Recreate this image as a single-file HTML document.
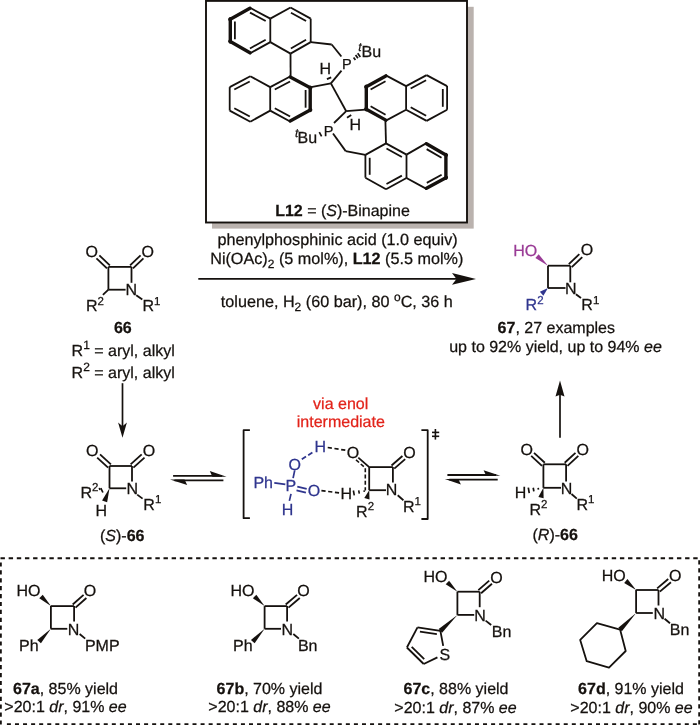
<!DOCTYPE html>
<html><head><meta charset="utf-8"><style>
html,body{margin:0;padding:0;background:#fff;}
svg{display:block;}
text{font-family:"Liberation Sans",sans-serif;stroke-width:0.25px;text-rendering:geometricPrecision;}
svg{will-change:transform;}
</style></head><body>
<svg width="700" height="725" viewBox="0 0 700 725">
<rect x="212" y="6.8" width="261.7" height="221.8" fill="#bab2ae"/>
<rect x="206" y="0.9" width="261" height="221.6" fill="#fff" stroke="#15110e" stroke-width="1.9"/>
<line x1="249.94" y1="8.29" x2="229.84" y2="19.39" stroke="#15110e" stroke-width="3.4" stroke-linecap="round"/>
<line x1="230.3" y1="18.6" x2="230.3" y2="42.1" stroke="#15110e" stroke-width="3.4" stroke-linecap="round"/>
<line x1="229.85" y1="41.32" x2="249.95" y2="52.82" stroke="#15110e" stroke-width="3.4" stroke-linecap="round"/>
<line x1="249.5" y1="53.6" x2="270.3" y2="42.1" stroke="#15110e" stroke-width="1.8" stroke-linecap="butt"/>
<line x1="270.3" y1="42.1" x2="270.3" y2="18.6" stroke="#15110e" stroke-width="1.8" stroke-linecap="butt"/>
<line x1="270.3" y1="18.6" x2="249.5" y2="7.5" stroke="#15110e" stroke-width="1.8" stroke-linecap="butt"/>
<line x1="270.3" y1="18.6" x2="290.5" y2="7.5" stroke="#15110e" stroke-width="1.8" stroke-linecap="butt"/>
<line x1="290.5" y1="7.5" x2="310.7" y2="18.6" stroke="#15110e" stroke-width="1.8" stroke-linecap="butt"/>
<line x1="310.7" y1="18.6" x2="310.7" y2="42.1" stroke="#15110e" stroke-width="1.8" stroke-linecap="butt"/>
<line x1="310.7" y1="42.1" x2="290.5" y2="53.6" stroke="#15110e" stroke-width="1.8" stroke-linecap="butt"/>
<line x1="290.5" y1="53.6" x2="270.3" y2="42.1" stroke="#15110e" stroke-width="1.8" stroke-linecap="butt"/>
<line x1="234.9" y1="21.5" x2="234.9" y2="39.2" stroke="#15110e" stroke-width="1.8" stroke-linecap="butt"/>
<line x1="249.96" y1="48.43" x2="265.68" y2="39.74" stroke="#15110e" stroke-width="1.8" stroke-linecap="butt"/>
<line x1="265.72" y1="21.03" x2="250.03" y2="12.66" stroke="#15110e" stroke-width="1.8" stroke-linecap="butt"/>
<line x1="290.97" y1="12.67" x2="306.09" y2="20.97" stroke="#15110e" stroke-width="1.8" stroke-linecap="butt"/>
<line x1="306.05" y1="39.8" x2="290.89" y2="48.43" stroke="#15110e" stroke-width="1.8" stroke-linecap="butt"/>
<line x1="250.3" y1="76.3" x2="229.7" y2="87.1" stroke="#15110e" stroke-width="1.8" stroke-linecap="butt"/>
<line x1="229.7" y1="87.1" x2="229.7" y2="110.6" stroke="#15110e" stroke-width="1.8" stroke-linecap="butt"/>
<line x1="229.7" y1="110.6" x2="250.3" y2="121.7" stroke="#15110e" stroke-width="1.8" stroke-linecap="butt"/>
<line x1="250.3" y1="121.7" x2="270.2" y2="110.6" stroke="#15110e" stroke-width="1.8" stroke-linecap="butt"/>
<line x1="270.2" y1="110.6" x2="270.2" y2="87.1" stroke="#15110e" stroke-width="1.8" stroke-linecap="butt"/>
<line x1="270.2" y1="87.1" x2="250.3" y2="76.3" stroke="#15110e" stroke-width="1.8" stroke-linecap="butt"/>
<line x1="270.2" y1="87.1" x2="290.6" y2="76.3" stroke="#15110e" stroke-width="1.8" stroke-linecap="butt"/>
<line x1="290.18" y1="77.1" x2="310.68" y2="87.9" stroke="#15110e" stroke-width="3.4" stroke-linecap="round"/>
<line x1="310.2" y1="87.1" x2="310.2" y2="110.6" stroke="#15110e" stroke-width="3.4" stroke-linecap="round"/>
<line x1="310.67" y1="109.81" x2="290.17" y2="120.91" stroke="#15110e" stroke-width="3.4" stroke-linecap="round"/>
<line x1="290.6" y1="121.7" x2="270.2" y2="110.6" stroke="#15110e" stroke-width="1.8" stroke-linecap="butt"/>
<line x1="249.73" y1="81.45" x2="234.27" y2="89.56" stroke="#15110e" stroke-width="1.8" stroke-linecap="butt"/>
<line x1="234.29" y1="108.19" x2="249.79" y2="116.54" stroke="#15110e" stroke-width="1.8" stroke-linecap="butt"/>
<line x1="274.77" y1="89.54" x2="290.05" y2="81.46" stroke="#15110e" stroke-width="1.8" stroke-linecap="butt"/>
<line x1="305.6" y1="90" x2="305.6" y2="107.7" stroke="#15110e" stroke-width="1.8" stroke-linecap="butt"/>
<line x1="290.11" y1="116.54" x2="274.8" y2="108.21" stroke="#15110e" stroke-width="1.8" stroke-linecap="butt"/>
<line x1="385.83" y1="75.89" x2="365.83" y2="86.89" stroke="#15110e" stroke-width="3.4" stroke-linecap="round"/>
<line x1="366.3" y1="86.1" x2="366.3" y2="109.7" stroke="#15110e" stroke-width="3.4" stroke-linecap="round"/>
<line x1="365.84" y1="108.91" x2="385.84" y2="120.11" stroke="#15110e" stroke-width="3.4" stroke-linecap="round"/>
<line x1="385.4" y1="120.9" x2="406.1" y2="109.7" stroke="#15110e" stroke-width="1.8" stroke-linecap="butt"/>
<line x1="406.1" y1="109.7" x2="406.1" y2="86.1" stroke="#15110e" stroke-width="1.8" stroke-linecap="butt"/>
<line x1="406.1" y1="86.1" x2="385.4" y2="75.1" stroke="#15110e" stroke-width="1.8" stroke-linecap="butt"/>
<line x1="406.1" y1="86.1" x2="426.6" y2="75.1" stroke="#15110e" stroke-width="1.8" stroke-linecap="butt"/>
<line x1="426.6" y1="75.1" x2="447.1" y2="86.1" stroke="#15110e" stroke-width="1.8" stroke-linecap="butt"/>
<line x1="447.1" y1="86.1" x2="447.1" y2="109.7" stroke="#15110e" stroke-width="1.8" stroke-linecap="butt"/>
<line x1="447.1" y1="109.7" x2="426.6" y2="120.9" stroke="#15110e" stroke-width="1.8" stroke-linecap="butt"/>
<line x1="426.6" y1="120.9" x2="406.1" y2="109.7" stroke="#15110e" stroke-width="1.8" stroke-linecap="butt"/>
<line x1="385.51" y1="81.32" x2="370.59" y2="89.52" stroke="#15110e" stroke-width="1.8" stroke-linecap="butt"/>
<line x1="370.62" y1="106.32" x2="385.56" y2="114.68" stroke="#15110e" stroke-width="1.8" stroke-linecap="butt"/>
<line x1="410.69" y1="88.52" x2="426.08" y2="80.26" stroke="#15110e" stroke-width="1.8" stroke-linecap="butt"/>
<line x1="442.8" y1="89" x2="442.8" y2="106.8" stroke="#15110e" stroke-width="1.8" stroke-linecap="butt"/>
<line x1="426.12" y1="115.74" x2="410.71" y2="107.32" stroke="#15110e" stroke-width="1.8" stroke-linecap="butt"/>
<line x1="386" y1="143.4" x2="365.4" y2="154.9" stroke="#15110e" stroke-width="1.8" stroke-linecap="butt"/>
<line x1="365.4" y1="154.9" x2="365.4" y2="177.7" stroke="#15110e" stroke-width="1.8" stroke-linecap="butt"/>
<line x1="365.4" y1="177.7" x2="386" y2="189.2" stroke="#15110e" stroke-width="1.8" stroke-linecap="butt"/>
<line x1="386" y1="189.2" x2="406.5" y2="178" stroke="#15110e" stroke-width="1.8" stroke-linecap="butt"/>
<line x1="406.5" y1="178" x2="406.5" y2="154.6" stroke="#15110e" stroke-width="1.8" stroke-linecap="butt"/>
<line x1="406.5" y1="154.6" x2="386" y2="143.4" stroke="#15110e" stroke-width="1.8" stroke-linecap="butt"/>
<line x1="406.5" y1="154.6" x2="426.9" y2="142.9" stroke="#15110e" stroke-width="1.8" stroke-linecap="butt"/>
<line x1="426.45" y1="143.68" x2="446.35" y2="155.18" stroke="#15110e" stroke-width="3.4" stroke-linecap="round"/>
<line x1="445.9" y1="154.4" x2="445.9" y2="178.2" stroke="#15110e" stroke-width="3.4" stroke-linecap="round"/>
<line x1="446.37" y1="177.41" x2="426.47" y2="188.31" stroke="#15110e" stroke-width="3.4" stroke-linecap="round"/>
<line x1="426.9" y1="189.1" x2="406.5" y2="178" stroke="#15110e" stroke-width="1.8" stroke-linecap="butt"/>
<line x1="369.7" y1="157.8" x2="369.7" y2="174.8" stroke="#15110e" stroke-width="1.8" stroke-linecap="butt"/>
<line x1="386.48" y1="184.04" x2="401.89" y2="175.62" stroke="#15110e" stroke-width="1.8" stroke-linecap="butt"/>
<line x1="401.89" y1="156.98" x2="386.48" y2="148.56" stroke="#15110e" stroke-width="1.8" stroke-linecap="butt"/>
<line x1="426.66" y1="149.11" x2="441.54" y2="157.71" stroke="#15110e" stroke-width="1.8" stroke-linecap="butt"/>
<line x1="441.61" y1="174.77" x2="426.8" y2="182.88" stroke="#15110e" stroke-width="1.8" stroke-linecap="butt"/>
<line x1="290.5" y1="53.6" x2="290.6" y2="76.3" stroke="#15110e" stroke-width="1.8" stroke-linecap="butt"/>
<line x1="385.4" y1="120.9" x2="386" y2="143.4" stroke="#15110e" stroke-width="1.8" stroke-linecap="butt"/>
<line x1="310.7" y1="42.1" x2="331.7" y2="44.5" stroke="#15110e" stroke-width="1.8" stroke-linecap="butt"/>
<line x1="331.7" y1="44.5" x2="341.4" y2="56.5" stroke="#15110e" stroke-width="1.8" stroke-linecap="butt"/>
<line x1="311.1" y1="87.1" x2="330.9" y2="83.4" stroke="#15110e" stroke-width="1.8" stroke-linecap="butt"/>
<line x1="330.9" y1="83.4" x2="341.5" y2="70.6" stroke="#15110e" stroke-width="1.8" stroke-linecap="butt"/>
<line x1="330.9" y1="83.4" x2="346.2" y2="111.2" stroke="#15110e" stroke-width="1.8" stroke-linecap="butt"/>
<line x1="346.2" y1="111.2" x2="365.4" y2="109.7" stroke="#15110e" stroke-width="1.8" stroke-linecap="butt"/>
<line x1="346.2" y1="111.2" x2="334" y2="123" stroke="#15110e" stroke-width="1.8" stroke-linecap="butt"/>
<line x1="333" y1="133.5" x2="345.7" y2="151.1" stroke="#15110e" stroke-width="1.8" stroke-linecap="butt"/>
<line x1="345.7" y1="151.1" x2="365.4" y2="154.9" stroke="#15110e" stroke-width="1.8" stroke-linecap="butt"/>
<text x="342" y="68.7" font-size="14.5" fill="#15110e" stroke="#15110e">P</text>
<text x="323.7" y="136.3" font-size="14.5" fill="#15110e" stroke="#15110e">P</text>
<line x1="353.6" y1="57.4" x2="355.4" y2="59.9" stroke="#15110e" stroke-width="1.7" stroke-linecap="butt"/>
<line x1="355.6" y1="54.9" x2="357.9" y2="58.3" stroke="#15110e" stroke-width="1.7" stroke-linecap="butt"/>
<line x1="357.7" y1="53.2" x2="360.3" y2="56.9" stroke="#15110e" stroke-width="1.7" stroke-linecap="butt"/>
<text x="358.3" y="51" font-size="12" font-style="italic" fill="#15110e" stroke="#15110e">t</text>
<text x="361.6" y="56.8" font-size="16" fill="#15110e" stroke="#15110e">Bu</text>
<line x1="319.3" y1="132.2" x2="321.6" y2="136.4" stroke="#15110e" stroke-width="1.7" stroke-linecap="butt"/>
<text x="294.9" y="136.6" font-size="12" font-style="italic" fill="#15110e" stroke="#15110e">t</text>
<text x="297.6" y="142.8" font-size="16" fill="#15110e" stroke="#15110e">Bu</text>
<line x1="326.9" y1="79.2" x2="331.2" y2="77.4" stroke="#15110e" stroke-width="1.8" stroke-linecap="butt"/>
<text x="319.4" y="74.4" font-size="16" fill="#15110e" stroke="#15110e">H</text>
<line x1="347" y1="117.8" x2="351.2" y2="114.9" stroke="#15110e" stroke-width="1.8" stroke-linecap="butt"/>
<text x="349.4" y="130.2" font-size="16" fill="#15110e" stroke="#15110e">H</text>
<text x="342.5" y="215.7" font-size="16" text-anchor="middle" fill="#15110e" stroke="#15110e"><tspan font-weight="bold">L12</tspan> = (<tspan font-style="italic">S</tspan>)-Binapine</text>
<line x1="198.3" y1="278.9" x2="457" y2="278.9" stroke="#15110e" stroke-width="1.9" stroke-linecap="butt"/>
<polygon points="476,278.9 452,284.8 456.5,278.9 452,273" fill="#15110e"/>
<text x="217.4" y="245.2" font-size="16.2" fill="#15110e" stroke="#15110e">phenylphosphinic acid (1.0 equiv)</text>
<text x="210.2" y="264.3" font-size="16.2" fill="#15110e" stroke="#15110e">Ni(OAc)<tspan font-size="12" dy="3.5">2</tspan><tspan dy="-3.5"> (5 mol%), </tspan><tspan font-weight="bold">L12</tspan> (5.5 mol%)</text>
<text x="220.8" y="307" font-size="16.2" fill="#15110e" stroke="#15110e">toluene, H<tspan font-size="12" dy="3.5">2</tspan><tspan dy="-3.5"> (60 bar), 80 </tspan><tspan font-size="12" dy="-6.5">o</tspan><tspan dy="6.5">C, 36 h</tspan></text>
<line x1="108.4" y1="266.9" x2="131.5" y2="266.9" stroke="#15110e" stroke-width="1.8" stroke-linecap="butt"/>
<line x1="108.4" y1="266.9" x2="108.4" y2="289.7" stroke="#15110e" stroke-width="1.8" stroke-linecap="butt"/>
<line x1="108.4" y1="289.7" x2="125.6" y2="289.7" stroke="#15110e" stroke-width="1.8" stroke-linecap="butt"/>
<line x1="131.5" y1="266.9" x2="131.5" y2="282.8" stroke="#15110e" stroke-width="1.8" stroke-linecap="butt"/>
<line x1="109.85" y1="265.38" x2="99.35" y2="255.38" stroke="#15110e" stroke-width="1.8" stroke-linecap="butt"/>
<line x1="106.95" y1="268.42" x2="96.45" y2="258.42" stroke="#15110e" stroke-width="1.8" stroke-linecap="butt"/>
<line x1="132.95" y1="268.42" x2="143.45" y2="258.42" stroke="#15110e" stroke-width="1.8" stroke-linecap="butt"/>
<line x1="130.05" y1="265.38" x2="140.55" y2="255.38" stroke="#15110e" stroke-width="1.8" stroke-linecap="butt"/>
<text x="91.7" y="257.2" font-size="16" text-anchor="middle" fill="#15110e" stroke="#15110e">O</text>
<text x="147.7" y="257.2" font-size="16" text-anchor="middle" fill="#15110e" stroke="#15110e">O</text>
<text x="131.4" y="294.9" font-size="16" text-anchor="middle" fill="#15110e" stroke="#15110e">N</text>
<line x1="108.4" y1="289.7" x2="102.9" y2="294.9" stroke="#15110e" stroke-width="1.8" stroke-linecap="butt"/>
<line x1="136.2" y1="295.2" x2="142.3" y2="299.6" stroke="#15110e" stroke-width="1.8" stroke-linecap="butt"/>
<text x="85.9" y="311.4" font-size="16" fill="#15110e" stroke="#15110e">R</text>
<text x="97.5" y="304.8" font-size="11.5" fill="#15110e" stroke="#15110e">2</text>
<text x="142.4" y="311.4" font-size="16" fill="#15110e" stroke="#15110e">R</text>
<text x="154" y="304.8" font-size="11.5" fill="#15110e" stroke="#15110e">1</text>
<text x="122.8" y="332.9" font-size="16" text-anchor="middle" font-weight="bold" fill="#15110e" stroke="#15110e">66</text>
<text x="71.6" y="355.9" font-size="16" fill="#15110e" stroke="#15110e">R<tspan font-size="12" dy="-6.6">1</tspan><tspan dy="6.6"> = aryl, alkyl</tspan></text>
<text x="71.6" y="377.9" font-size="16" fill="#15110e" stroke="#15110e">R<tspan font-size="12" dy="-6.6">2</tspan><tspan dy="6.6"> = aryl, alkyl</tspan></text>
<line x1="548" y1="265.7" x2="570.3" y2="265.7" stroke="#15110e" stroke-width="1.8" stroke-linecap="butt"/>
<line x1="548" y1="265.7" x2="548" y2="288" stroke="#15110e" stroke-width="1.8" stroke-linecap="butt"/>
<line x1="548" y1="288" x2="565.5" y2="288" stroke="#15110e" stroke-width="1.8" stroke-linecap="butt"/>
<line x1="570.3" y1="265.7" x2="570.3" y2="282.3" stroke="#15110e" stroke-width="1.8" stroke-linecap="butt"/>
<line x1="571.76" y1="267.21" x2="582.26" y2="257.11" stroke="#15110e" stroke-width="1.8" stroke-linecap="butt"/>
<line x1="568.84" y1="264.19" x2="579.34" y2="254.09" stroke="#15110e" stroke-width="1.8" stroke-linecap="butt"/>
<text x="587" y="255.4" font-size="16" text-anchor="middle" fill="#15110e" stroke="#15110e">O</text>
<polygon points="548,265.7 538.63,254.31 535.37,258.09" fill="#9a3c96"/>
<text x="513.2" y="255.8" font-size="16" fill="#9a3c96" stroke="#9a3c96">HO</text>
<text x="570.7" y="294" font-size="16" text-anchor="middle" fill="#15110e" stroke="#15110e">N</text>
<polygon points="548,288 539.85,291.87 543.35,295.73" fill="#2f358e"/>
<text x="525.6" y="310.3" font-size="16" fill="#2f358e" stroke="#2f358e">R</text>
<text x="537.2" y="303.7" font-size="11.5" fill="#2f358e" stroke="#2f358e">2</text>
<text x="581.3" y="310.3" font-size="16" fill="#15110e" stroke="#15110e">R</text>
<text x="592.9" y="303.7" font-size="11.5" fill="#15110e" stroke="#15110e">1</text>
<line x1="575.9" y1="294.2" x2="581" y2="298" stroke="#15110e" stroke-width="1.8" stroke-linecap="butt"/>
<text x="497.6" y="333.1" font-size="16" fill="#15110e" stroke="#15110e"><tspan font-weight="bold">67</tspan>, 27 examples</text>
<text x="449.2" y="352" font-size="16" fill="#15110e" stroke="#15110e">up to 92% yield, up to 94% <tspan font-style="italic">ee</tspan></text>
<line x1="122.5" y1="383.2" x2="122.5" y2="427" stroke="#15110e" stroke-width="1.7" stroke-linecap="butt"/>
<polygon points="122.5,437.8 118.1,422.4 122.5,426.2 126.9,422.4" fill="#15110e"/>
<line x1="560" y1="394" x2="560" y2="437.7" stroke="#15110e" stroke-width="1.7" stroke-linecap="butt"/>
<polygon points="560,380.4 564.5,396.4 560,394.7 555.5,396.4" fill="#15110e"/>
<line x1="109.5" y1="466" x2="132" y2="466" stroke="#15110e" stroke-width="1.8" stroke-linecap="butt"/>
<line x1="109.5" y1="466" x2="109.5" y2="488.3" stroke="#15110e" stroke-width="1.8" stroke-linecap="butt"/>
<line x1="109.5" y1="488.3" x2="126.2" y2="488.3" stroke="#15110e" stroke-width="1.8" stroke-linecap="butt"/>
<line x1="132" y1="466" x2="132" y2="481.5" stroke="#15110e" stroke-width="1.8" stroke-linecap="butt"/>
<line x1="110.92" y1="464.45" x2="100.02" y2="454.45" stroke="#15110e" stroke-width="1.8" stroke-linecap="butt"/>
<line x1="108.08" y1="467.55" x2="97.18" y2="457.55" stroke="#15110e" stroke-width="1.8" stroke-linecap="butt"/>
<line x1="133.41" y1="467.56" x2="144.51" y2="457.56" stroke="#15110e" stroke-width="1.8" stroke-linecap="butt"/>
<line x1="130.59" y1="464.44" x2="141.69" y2="454.44" stroke="#15110e" stroke-width="1.8" stroke-linecap="butt"/>
<text x="92.2" y="455.9" font-size="16" text-anchor="middle" fill="#15110e" stroke="#15110e">O</text>
<text x="149" y="455.9" font-size="16" text-anchor="middle" fill="#15110e" stroke="#15110e">O</text>
<text x="132.3" y="494.1" font-size="16" text-anchor="middle" fill="#15110e" stroke="#15110e">N</text>
<polygon points="109.5,488.3 102.07,500.45 107.13,502.35" fill="#15110e"/>
<text x="101.4" y="515.7" font-size="16" text-anchor="middle" fill="#15110e" stroke="#15110e">H</text>
<line x1="99.3" y1="487.9" x2="99.9" y2="490" stroke="#15110e" stroke-width="1.6" stroke-linecap="butt"/>
<line x1="100.8" y1="488.1" x2="102.9" y2="492.5" stroke="#15110e" stroke-width="1.7" stroke-linecap="butt"/>
<text x="80.5" y="498" font-size="16" fill="#15110e" stroke="#15110e">R</text>
<text x="92.1" y="491.4" font-size="11.5" fill="#15110e" stroke="#15110e">2</text>
<line x1="137.2" y1="494.6" x2="142.6" y2="498.6" stroke="#15110e" stroke-width="1.8" stroke-linecap="butt"/>
<text x="143.3" y="510" font-size="16" fill="#15110e" stroke="#15110e">R</text>
<text x="154.9" y="503.4" font-size="11.5" fill="#15110e" stroke="#15110e">1</text>
<text x="122.2" y="541" font-size="16" text-anchor="middle" fill="#15110e" stroke="#15110e">(<tspan font-style="italic">S</tspan>)-<tspan font-weight="bold">66</tspan></text>
<line x1="173.1" y1="475.9" x2="222" y2="475.9" stroke="#15110e" stroke-width="1.8" stroke-linecap="butt"/>
<polygon points="226.6,476.7 209.8,471 212.4,476.7" fill="#15110e"/>
<line x1="174.5" y1="480.3" x2="223.4" y2="480.3" stroke="#15110e" stroke-width="1.8" stroke-linecap="butt"/>
<polygon points="170,479.5 187.2,485.1 184.5,479.5" fill="#15110e"/>
<line x1="447.4" y1="475" x2="496" y2="475" stroke="#15110e" stroke-width="1.8" stroke-linecap="butt"/>
<polygon points="500.3,475.8 483.6,470.2 486.2,475.8" fill="#15110e"/>
<line x1="449.3" y1="479.7" x2="497.7" y2="479.7" stroke="#15110e" stroke-width="1.8" stroke-linecap="butt"/>
<polygon points="444.8,478.9 460.9,484.4 458.3,478.9" fill="#15110e"/>
<path d="M249.9,430.2 H243.6 V518.2 H249.9" fill="none" stroke="#15110e" stroke-width="1.8" stroke-linejoin="round"/>
<path d="M421.4,430.2 H427.7 V519 H421.4" fill="none" stroke="#15110e" stroke-width="1.8" stroke-linejoin="round"/>
<line x1="435.4" y1="429" x2="435.4" y2="439.6" stroke="#15110e" stroke-width="1.6" stroke-linecap="butt"/>
<line x1="432" y1="432.4" x2="439.2" y2="432.4" stroke="#15110e" stroke-width="1.6" stroke-linecap="butt"/>
<line x1="432" y1="436.3" x2="439.2" y2="436.3" stroke="#15110e" stroke-width="1.6" stroke-linecap="butt"/>
<text x="340.7" y="409.1" font-size="16" text-anchor="middle" fill="#e2231a" stroke="#e2231a">via enol</text>
<text x="340.85" y="426.6" font-size="16" text-anchor="middle" fill="#e2231a" stroke="#e2231a">intermediate</text>
<text x="253.4" y="487.6" font-size="16" fill="#2f358e" stroke="#2f358e">Ph</text>
<line x1="274.3" y1="482.9" x2="285.3" y2="484.4" stroke="#2f358e" stroke-width="1.7" stroke-linecap="butt"/>
<text x="290.8" y="490.7" font-size="16" text-anchor="middle" fill="#2f358e" stroke="#2f358e">P</text>
<line x1="297.3" y1="486.6" x2="306.7" y2="488.9" stroke="#2f358e" stroke-width="1.7" stroke-linecap="butt"/>
<line x1="296.5" y1="490.4" x2="305.9" y2="492.7" stroke="#2f358e" stroke-width="1.7" stroke-linecap="butt"/>
<text x="314" y="495.9" font-size="16" text-anchor="middle" fill="#2f358e" stroke="#2f358e">O</text>
<line x1="291" y1="493.9" x2="289.4" y2="500.9" stroke="#2f358e" stroke-width="1.7" stroke-linecap="butt"/>
<text x="287.6" y="515" font-size="16" text-anchor="middle" fill="#2f358e" stroke="#2f358e">H</text>
<line x1="293.1" y1="478.1" x2="294.7" y2="470.3" stroke="#2f358e" stroke-width="1.7" stroke-linecap="butt"/>
<text x="294.7" y="469.5" font-size="16" text-anchor="middle" fill="#2f358e" stroke="#2f358e">O</text>
<line x1="301.8" y1="459.3" x2="312.8" y2="452.2" stroke="#2f358e" stroke-width="1.8" stroke-linecap="butt" stroke-dasharray="5 2.6"/>
<text x="320.2" y="452.2" font-size="16" text-anchor="middle" fill="#2f358e" stroke="#2f358e">H</text>
<line x1="327.7" y1="447.5" x2="345.5" y2="450.2" stroke="#15110e" stroke-width="1.7" stroke-linecap="butt" stroke-dasharray="4.2 2.6"/>
<line x1="321.4" y1="490.7" x2="341.5" y2="493.1" stroke="#15110e" stroke-width="1.7" stroke-linecap="butt" stroke-dasharray="4.2 2.6"/>
<line x1="369.2" y1="467.1" x2="392.9" y2="467.1" stroke="#15110e" stroke-width="1.8" stroke-linecap="butt"/>
<line x1="369.2" y1="467.1" x2="369.2" y2="490.2" stroke="#15110e" stroke-width="1.8" stroke-linecap="butt"/>
<line x1="369.2" y1="490.2" x2="386" y2="490.2" stroke="#15110e" stroke-width="1.8" stroke-linecap="butt"/>
<line x1="392.9" y1="467.1" x2="392.9" y2="482.4" stroke="#15110e" stroke-width="1.8" stroke-linecap="butt"/>
<line x1="369.2" y1="467.1" x2="358.3" y2="457.6" stroke="#15110e" stroke-width="1.8" stroke-linecap="butt"/>
<path d="M356.0,459.9 L365.3,467.9 V490.5" fill="none" stroke="#15110e" stroke-width="1.6" stroke-linejoin="round" stroke-dasharray="4 2.3"/>
<line x1="394.28" y1="468.68" x2="405.18" y2="459.18" stroke="#15110e" stroke-width="1.8" stroke-linecap="butt"/>
<line x1="391.52" y1="465.52" x2="402.42" y2="456.02" stroke="#15110e" stroke-width="1.8" stroke-linecap="butt"/>
<text x="353" y="457.5" font-size="16" text-anchor="middle" fill="#15110e" stroke="#15110e">O</text>
<text x="409.4" y="457.5" font-size="16" text-anchor="middle" fill="#15110e" stroke="#15110e">O</text>
<text x="391.6" y="495.4" font-size="16" text-anchor="middle" fill="#15110e" stroke="#15110e">N</text>
<line x1="364.05" y1="490.31" x2="364.33" y2="491.89" stroke="#15110e" stroke-width="1.6" stroke-linecap="butt"/>
<line x1="358.72" y1="490.41" x2="359.3" y2="493.65" stroke="#15110e" stroke-width="1.6" stroke-linecap="butt"/>
<line x1="353.39" y1="490.5" x2="354.28" y2="495.42" stroke="#15110e" stroke-width="1.6" stroke-linecap="butt"/>
<text x="346.4" y="499.3" font-size="16" text-anchor="middle" fill="#15110e" stroke="#15110e">H</text>
<polygon points="369.2,490.2 364.29,498.1 369.51,499.5" fill="#15110e"/>
<text x="356.1" y="517" font-size="16" fill="#15110e" stroke="#15110e">R</text>
<text x="367.7" y="510.4" font-size="11.5" fill="#15110e" stroke="#15110e">2</text>
<line x1="397.7" y1="495.3" x2="403.4" y2="500.2" stroke="#15110e" stroke-width="1.8" stroke-linecap="butt"/>
<text x="402.9" y="512" font-size="16" fill="#15110e" stroke="#15110e">R</text>
<text x="414.5" y="505.4" font-size="11.5" fill="#15110e" stroke="#15110e">1</text>
<line x1="543.4" y1="464.3" x2="566.1" y2="464.3" stroke="#15110e" stroke-width="1.8" stroke-linecap="butt"/>
<line x1="543.4" y1="464.3" x2="543.4" y2="487.8" stroke="#15110e" stroke-width="1.8" stroke-linecap="butt"/>
<line x1="543.4" y1="487.8" x2="561" y2="487.8" stroke="#15110e" stroke-width="1.8" stroke-linecap="butt"/>
<line x1="566.1" y1="464.3" x2="566.1" y2="481.5" stroke="#15110e" stroke-width="1.8" stroke-linecap="butt"/>
<line x1="544.82" y1="462.75" x2="534.02" y2="452.85" stroke="#15110e" stroke-width="1.8" stroke-linecap="butt"/>
<line x1="541.98" y1="465.85" x2="531.18" y2="455.95" stroke="#15110e" stroke-width="1.8" stroke-linecap="butt"/>
<line x1="567.52" y1="465.85" x2="578.32" y2="455.95" stroke="#15110e" stroke-width="1.8" stroke-linecap="butt"/>
<line x1="564.68" y1="462.75" x2="575.48" y2="452.85" stroke="#15110e" stroke-width="1.8" stroke-linecap="butt"/>
<text x="526.7" y="455.2" font-size="16" text-anchor="middle" fill="#15110e" stroke="#15110e">O</text>
<text x="582.8" y="455.2" font-size="16" text-anchor="middle" fill="#15110e" stroke="#15110e">O</text>
<text x="566.5" y="493.9" font-size="16" text-anchor="middle" fill="#15110e" stroke="#15110e">N</text>
<line x1="538.16" y1="487.81" x2="538.47" y2="489.58" stroke="#15110e" stroke-width="1.7" stroke-linecap="butt"/>
<line x1="533.23" y1="487.76" x2="533.85" y2="491.31" stroke="#15110e" stroke-width="1.7" stroke-linecap="butt"/>
<line x1="528.3" y1="487.72" x2="529.24" y2="493.04" stroke="#15110e" stroke-width="1.7" stroke-linecap="butt"/>
<text x="520.6" y="497.7" font-size="16" text-anchor="middle" fill="#15110e" stroke="#15110e">H</text>
<polygon points="543.4,487.8 538.38,496.96 543.62,498.24" fill="#15110e"/>
<text x="529.5" y="515" font-size="16" fill="#15110e" stroke="#15110e">R</text>
<text x="541.1" y="508.4" font-size="11.5" fill="#15110e" stroke="#15110e">2</text>
<line x1="571.5" y1="494" x2="576.8" y2="498.6" stroke="#15110e" stroke-width="1.8" stroke-linecap="butt"/>
<text x="576.5" y="509.8" font-size="16" fill="#15110e" stroke="#15110e">R</text>
<text x="588.1" y="503.2" font-size="11.5" fill="#15110e" stroke="#15110e">1</text>
<text x="555.2" y="540" font-size="16" text-anchor="middle" fill="#15110e" stroke="#15110e">(<tspan font-style="italic">R</tspan>)-<tspan font-weight="bold">66</tspan></text>
<line x1="0.5" y1="558.3" x2="699.5" y2="558.3" stroke="#15110e" stroke-width="1.9" stroke-linecap="butt" stroke-dasharray="4.4 3.75"/>
<line x1="0.85" y1="562.4" x2="0.85" y2="725" stroke="#15110e" stroke-width="1.9" stroke-linecap="butt" stroke-dasharray="4.2 3.7"/>
<line x1="699.2" y1="560.3" x2="699.2" y2="725" stroke="#15110e" stroke-width="1.9" stroke-linecap="butt" stroke-dasharray="4.3 3.7"/>
<line x1="6.9" y1="724.2" x2="699" y2="724.2" stroke="#15110e" stroke-width="1.9" stroke-linecap="butt" stroke-dasharray="4.0 4.07"/>
<line x1="50.9" y1="606.1" x2="74.1" y2="606.1" stroke="#15110e" stroke-width="1.8" stroke-linecap="butt"/>
<line x1="50.9" y1="606.1" x2="50.9" y2="628.8" stroke="#15110e" stroke-width="1.8" stroke-linecap="butt"/>
<line x1="50.9" y1="628.8" x2="67.3" y2="628.8" stroke="#15110e" stroke-width="1.8" stroke-linecap="butt"/>
<line x1="74.1" y1="606.1" x2="74.1" y2="621.6" stroke="#15110e" stroke-width="1.8" stroke-linecap="butt"/>
<line x1="75.5" y1="607.67" x2="86.4" y2="597.97" stroke="#15110e" stroke-width="1.8" stroke-linecap="butt"/>
<line x1="72.7" y1="604.53" x2="83.6" y2="594.83" stroke="#15110e" stroke-width="1.8" stroke-linecap="butt"/>
<text x="90.1" y="596.4" font-size="16" text-anchor="middle" fill="#15110e" stroke="#15110e">O</text>
<polygon points="50.9,606.1 42.74,594.71 39.26,598.29" fill="#15110e"/>
<text x="16.4" y="595.8" font-size="16" fill="#15110e" stroke="#15110e">HO</text>
<text x="73.6" y="634.6" font-size="16" text-anchor="middle" fill="#15110e" stroke="#15110e">N</text>
<polygon points="50.9,628.8 37.26,639.91 40.94,643.29" fill="#15110e"/>
<text x="19" y="650.6" font-size="16" fill="#15110e" stroke="#15110e">Ph</text>
<line x1="79.6" y1="634" x2="85.2" y2="638.6" stroke="#15110e" stroke-width="1.8" stroke-linecap="butt"/>
<text x="84.9" y="650.6" font-size="16" fill="#15110e" stroke="#15110e">PMP</text>
<text x="65.5" y="694" font-size="16" text-anchor="middle" fill="#15110e" stroke="#15110e"><tspan font-weight="bold">67a</tspan>, 85% yield</text>
<text x="65.5" y="712.4" font-size="16" text-anchor="middle" fill="#15110e" stroke="#15110e">&gt;20:1 <tspan font-style="italic">dr</tspan>, 91% <tspan font-style="italic">ee</tspan></text>
<line x1="264.6" y1="606.1" x2="287.1" y2="606.1" stroke="#15110e" stroke-width="1.8" stroke-linecap="butt"/>
<line x1="264.6" y1="606.1" x2="264.6" y2="628.8" stroke="#15110e" stroke-width="1.8" stroke-linecap="butt"/>
<line x1="264.6" y1="628.8" x2="281" y2="628.8" stroke="#15110e" stroke-width="1.8" stroke-linecap="butt"/>
<line x1="287.1" y1="606.1" x2="287.1" y2="621.6" stroke="#15110e" stroke-width="1.8" stroke-linecap="butt"/>
<line x1="288.47" y1="607.69" x2="299.77" y2="597.99" stroke="#15110e" stroke-width="1.8" stroke-linecap="butt"/>
<line x1="285.73" y1="604.51" x2="297.03" y2="594.81" stroke="#15110e" stroke-width="1.8" stroke-linecap="butt"/>
<text x="303.6" y="596.4" font-size="16" text-anchor="middle" fill="#15110e" stroke="#15110e">O</text>
<polygon points="264.6,606.1 256.33,594.7 252.87,598.3" fill="#15110e"/>
<text x="230.5" y="595.8" font-size="16" fill="#15110e" stroke="#15110e">HO</text>
<text x="287.3" y="634.6" font-size="16" text-anchor="middle" fill="#15110e" stroke="#15110e">N</text>
<polygon points="264.6,628.8 250.96,639.91 254.64,643.29" fill="#15110e"/>
<text x="233.1" y="650.6" font-size="16" fill="#15110e" stroke="#15110e">Ph</text>
<line x1="293.3" y1="634" x2="298.9" y2="638.6" stroke="#15110e" stroke-width="1.8" stroke-linecap="butt"/>
<text x="297.9" y="650.6" font-size="16" fill="#15110e" stroke="#15110e">Bn</text>
<text x="269.5" y="694" font-size="16" text-anchor="middle" fill="#15110e" stroke="#15110e"><tspan font-weight="bold">67b</tspan>, 70% yield</text>
<text x="269.5" y="712.4" font-size="16" text-anchor="middle" fill="#15110e" stroke="#15110e">&gt;20:1 <tspan font-style="italic">dr</tspan>, 88% <tspan font-style="italic">ee</tspan></text>
<line x1="457.4" y1="591.7" x2="479.7" y2="591.7" stroke="#15110e" stroke-width="1.8" stroke-linecap="butt"/>
<line x1="457.4" y1="591.7" x2="457.4" y2="614.9" stroke="#15110e" stroke-width="1.8" stroke-linecap="butt"/>
<line x1="457.4" y1="614.9" x2="474.2" y2="614.9" stroke="#15110e" stroke-width="1.8" stroke-linecap="butt"/>
<line x1="479.7" y1="591.7" x2="479.7" y2="607.2" stroke="#15110e" stroke-width="1.8" stroke-linecap="butt"/>
<line x1="481.08" y1="593.28" x2="491.98" y2="583.78" stroke="#15110e" stroke-width="1.8" stroke-linecap="butt"/>
<line x1="478.32" y1="590.12" x2="489.22" y2="580.62" stroke="#15110e" stroke-width="1.8" stroke-linecap="butt"/>
<text x="496.4" y="583" font-size="16" text-anchor="middle" fill="#15110e" stroke="#15110e">O</text>
<polygon points="457.4,591.7 449.09,580.66 445.71,584.34" fill="#15110e"/>
<text x="423.4" y="582.3" font-size="16" fill="#15110e" stroke="#15110e">HO</text>
<text x="480.1" y="620.8" font-size="16" text-anchor="middle" fill="#15110e" stroke="#15110e">N</text>
<polygon points="457.4,614.9 438.69,628.97 442.11,632.63" fill="#15110e"/>
<line x1="440.4" y1="630.8" x2="417.5" y2="627.4" stroke="#15110e" stroke-width="1.8" stroke-linecap="butt"/>
<line x1="417.5" y1="627.4" x2="406.9" y2="647.5" stroke="#15110e" stroke-width="1.8" stroke-linecap="butt"/>
<line x1="406.9" y1="647.5" x2="423.7" y2="664" stroke="#15110e" stroke-width="1.8" stroke-linecap="butt"/>
<line x1="423.7" y1="664" x2="437.4" y2="657.4" stroke="#15110e" stroke-width="1.8" stroke-linecap="butt"/>
<line x1="440.4" y1="630.8" x2="443.2" y2="645.9" stroke="#15110e" stroke-width="1.8" stroke-linecap="butt"/>
<line x1="436.87" y1="634.12" x2="419.91" y2="631.6" stroke="#15110e" stroke-width="1.8" stroke-linecap="butt"/>
<line x1="411.7" y1="646.89" x2="424.22" y2="659.19" stroke="#15110e" stroke-width="1.8" stroke-linecap="butt"/>
<text x="444.8" y="660" font-size="16" text-anchor="middle" fill="#15110e" stroke="#15110e">S</text>
<line x1="485.6" y1="620.6" x2="491.2" y2="625" stroke="#15110e" stroke-width="1.8" stroke-linecap="butt"/>
<text x="491.8" y="637.1" font-size="16" fill="#15110e" stroke="#15110e">Bn</text>
<text x="456" y="694" font-size="16" text-anchor="middle" fill="#15110e" stroke="#15110e"><tspan font-weight="bold">67c</tspan>, 88% yield</text>
<text x="455.5" y="713" font-size="16" text-anchor="middle" fill="#15110e" stroke="#15110e">&gt;20:1 <tspan font-style="italic">dr</tspan>, 87% <tspan font-style="italic">ee</tspan></text>
<line x1="636.1" y1="590" x2="658.5" y2="590" stroke="#15110e" stroke-width="1.8" stroke-linecap="butt"/>
<line x1="636.1" y1="590" x2="636.1" y2="613" stroke="#15110e" stroke-width="1.8" stroke-linecap="butt"/>
<line x1="636.1" y1="613" x2="652.8" y2="613" stroke="#15110e" stroke-width="1.8" stroke-linecap="butt"/>
<line x1="658.5" y1="590" x2="658.5" y2="605.5" stroke="#15110e" stroke-width="1.8" stroke-linecap="butt"/>
<line x1="659.86" y1="591.6" x2="670.96" y2="582.2" stroke="#15110e" stroke-width="1.8" stroke-linecap="butt"/>
<line x1="657.14" y1="588.4" x2="668.24" y2="579" stroke="#15110e" stroke-width="1.8" stroke-linecap="butt"/>
<text x="675.3" y="580.9" font-size="16" text-anchor="middle" fill="#15110e" stroke="#15110e">O</text>
<polygon points="636.1,590 627.44,579.12 624.16,582.88" fill="#15110e"/>
<text x="601.8" y="580.9" font-size="16" fill="#15110e" stroke="#15110e">HO</text>
<text x="659.2" y="618.5" font-size="16" text-anchor="middle" fill="#15110e" stroke="#15110e">N</text>
<polygon points="636.1,613 618.3,627.87 621.9,631.33" fill="#15110e"/>
<path d="M620.1,629.6 L596.9,623.1 L580.2,639.9 L586.7,661.2 L609,667.7 L625.7,651 Z" fill="none" stroke="#15110e" stroke-width="1.8" stroke-linejoin="round"/>
<line x1="664.6" y1="618.7" x2="670" y2="623.2" stroke="#15110e" stroke-width="1.8" stroke-linecap="butt"/>
<text x="669.8" y="634.6" font-size="16" fill="#15110e" stroke="#15110e">Bn</text>
<text x="631" y="694" font-size="16" text-anchor="middle" fill="#15110e" stroke="#15110e"><tspan font-weight="bold">67d</tspan>, 91% yield</text>
<text x="631.5" y="713" font-size="16" text-anchor="middle" fill="#15110e" stroke="#15110e">&gt;20:1 <tspan font-style="italic">dr</tspan>, 90% <tspan font-style="italic">ee</tspan></text>
</svg>
</body></html>
